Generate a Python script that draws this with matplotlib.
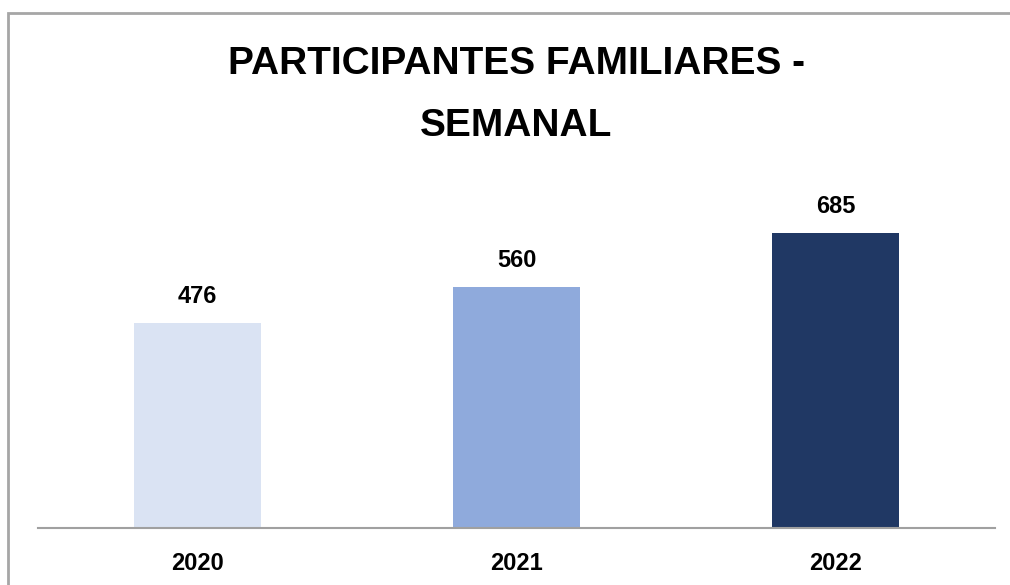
import matplotlib
matplotlib.use("Agg")
import matplotlib.pyplot as plt
from matplotlib.patches import Rectangle

years = ["2020", "2021", "2022"]
participants = [476, 560, 685]
bar_colors = ["#dae3f3", "#8faadc", "#203864"]

plt.rcParams['font.family'] = ['Liberation Sans', 'DejaVu Sans']

fig = plt.figure(figsize=(10.1, 5.85), dpi=100)
W, H = 1010, 585

# outer chart border (right and bottom edges fall outside the picture)
fig.patches.append(Rectangle((8 / W, -0.05), 1.05, 1.05 - 13 / H,
                             transform=fig.transFigure, fill=False,
                             edgecolor="#a6a6a6", linewidth=2))

ax = fig.add_axes([38 / W, 57 / H, 957 / W, 348 / H])
x = range(len(years))
bars = ax.bar(x, participants, width=0.4, color=bar_colors)
ax.set_xlim(-0.5, 2.5)
ax.set_ylim(0, 808)

for b, v in zip(bars, participants):
    ax.annotate(str(v), (b.get_x() + b.get_width() / 2, v),
                xytext=(0, 11), textcoords="offset points",
                ha="center", va="bottom", fontsize=17, fontweight="bold")

ax.set_xticks(list(x))
ax.set_xticklabels(years, fontsize=17, fontweight="bold")
ax.tick_params(axis="x", length=0, pad=17)
ax.set_yticks([])
for s in ["top", "right", "left"]:
    ax.spines[s].set_visible(False)
ax.spines["bottom"].set_color("#a0a0a0")
ax.spines["bottom"].set_linewidth(1.5)

fig.text(516 / W, 1 - 95 / H, "PARTICIPANTES FAMILIARES -\nSEMANAL",
         ha="center", va="center", fontsize=28, fontweight="bold",
         linespacing=1.9)

fig.savefig("out.png", dpi=100)
